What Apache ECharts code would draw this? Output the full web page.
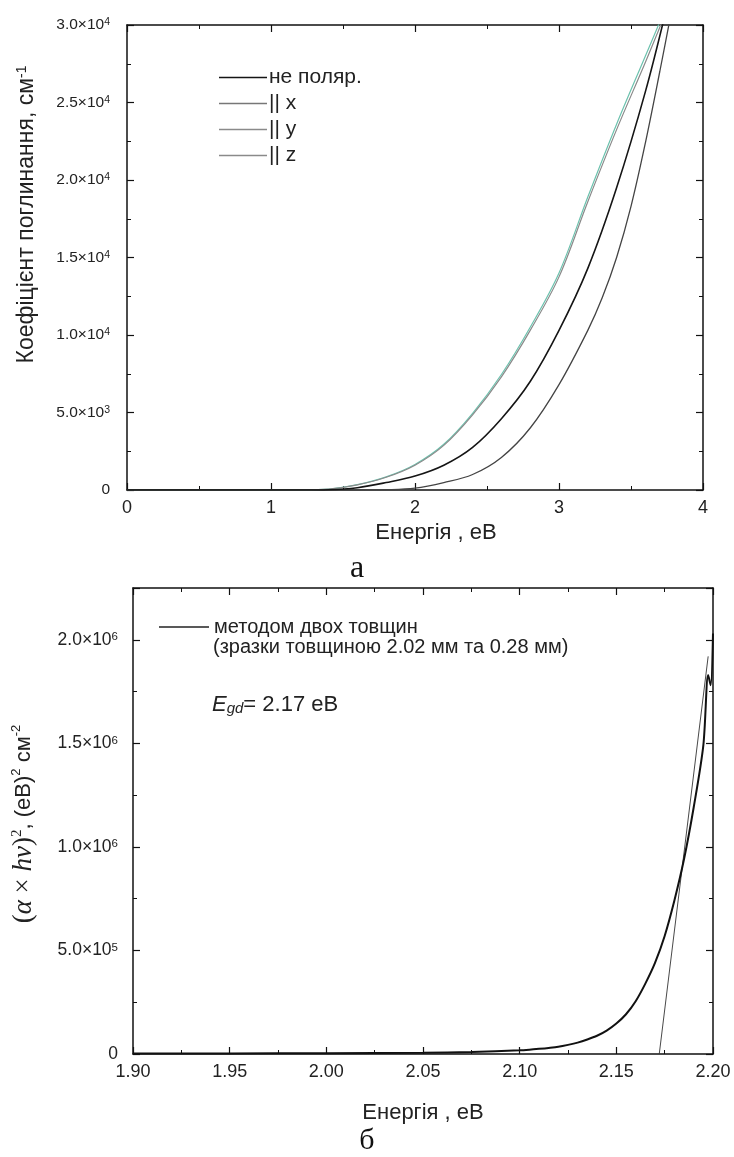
<!DOCTYPE html>
<html><head><meta charset="utf-8">
<script src="https://cdn.jsdelivr.net/npm/echarts@6/dist/echarts.min.js"></script>
<style>html,body{margin:0;padding:0;background:#fff}#c{width:734px;height:1157px}</style>
</head><body><div id="c"></div>
<script>
// ---------- top panel data (а) ----------
const energyN = [0, 1.2, 1.4, 1.6, 1.8, 2.0, 2.2, 2.4, 2.6, 2.8, 3.0, 3.2, 3.4, 3.6, 3.75];
const alphaN  = [0, 0, 20, 150, 480, 900, 1600, 2750, 4600, 7000, 10300, 14300, 19500, 25700, 31200];
const energyX = [0, 1.6, 1.8, 2.0, 2.2, 2.4, 2.6, 2.8, 3.0, 3.2, 3.3, 3.4, 3.5, 3.6, 3.7, 3.8];
const alphaX  = [0, 0, 20, 120, 480, 1000, 2100, 4000, 6800, 10300, 12400, 15000, 18300, 22400, 27000, 31800];
const energyY = [0, 1.0, 1.2, 1.4, 1.6, 1.8, 2.0, 2.2, 2.4, 2.6, 2.8, 3.0, 3.2, 3.4, 3.6, 3.72];
const alphaY  = [0, 0, 4, 55, 330, 820, 1600, 2880, 4850, 7300, 10300, 13750, 18600, 23250, 27600, 30300];
const energyZ = [0, 1.0, 1.2, 1.4, 1.6, 1.8, 2.0, 2.2, 2.4, 2.6, 2.8, 3.0, 3.2, 3.4, 3.6, 3.7];
const alphaZ  = [0, 0, 5, 60, 350, 850, 1650, 2950, 4950, 7450, 10500, 14000, 18900, 23600, 28000, 30200];
const topNames = ['не поляр.', '|| x', '|| y', '|| z'];
const topXTicks = [0, 1, 2, 3, 4];
const topXLabels = ['0', '1', '2', '3', '4'];
const topYTicks = [0, 5000, 10000, 15000, 20000, 25000, 30000];
const topYLabels = ['0', '5.0×10^3', '1.0×10^4', '1.5×10^4', '2.0×10^4', '2.5×10^4', '3.0×10^4'];

// ---------- bottom panel data (б) ----------
const energyB = [1.90, 1.95, 2.00, 2.05, 2.075, 2.10, 2.105, 2.11, 2.115, 2.12, 2.125, 2.13, 2.135, 2.14, 2.145, 2.15, 2.155, 2.16, 2.165, 2.17, 2.175, 2.18, 2.185, 2.19, 2.195, 2.1975, 2.1988, 2.20];
const sqB     = [3000, 3000, 3500, 6000, 10000, 18000, 21000, 25000, 29500, 35000, 44000, 55000, 70000, 88000, 113000, 147000, 192000, 255000, 340000, 440000, 570000, 740000, 940000, 1190000, 1490000, 1830000, 1780000, 2030000];
const fitE = [2.1722, 2.1975];
const fitV = [0, 1920000];
const botName = 'методом двох товщин';
const botXTicks = [1.90, 1.95, 2.00, 2.05, 2.10, 2.15, 2.20];
const botXLabels = ['1.90', '1.95', '2.00', '2.05', '2.10', '2.15', '2.20'];
const botYTicks = [0, 500000, 1000000, 1500000, 2000000];
const botYLabels = ['0', '5.0×10^5', '1.0×10^6', '1.5×10^6', '2.0×10^6'];

const zip = (a, b) => a.map((v, i) => [v, b[i]]);
const SANS = "'Liberation Sans', Arial, sans-serif";
const SERIF = "'Liberation Serif', 'Times New Roman', serif";
function lookup(ticks, labels) {
  return function (v) {
    for (let i = 0; i < ticks.length; i++) {
      if (Math.abs(ticks[i] - v) <= 1e-9 * Math.max(1, Math.abs(v))) {
        return labels[i].replace(/\^(-?\d+)/, '{s|$1}');
      }
    }
    return '';
  };
}
const axLine = { show: true, onZero: false, lineStyle: { color: '#111', width: 1.5 } };
function tickAx(extra) {
  return Object.assign({
    type: 'value', axisLine: axLine, splitLine: { show: false },
    axisTick: { show: true, inside: true, length: 7, lineStyle: { color: '#111', width: 1.2 } },
    minorTick: { show: true, splitNumber: 2, length: 4, lineStyle: { color: '#111', width: 1 } },
    axisLabel: { show: false }
  }, extra);
}

const chart = echarts.init(document.getElementById('c'), null, { renderer: 'canvas' });
const option = {
  backgroundColor: '#fff',
  animation: false,
  grid: [
    { left: 127, right: 31, top: 25, bottom: 667 },
    { left: 133, right: 21, top: 588, bottom: 103 }
  ],
  xAxis: [
    tickAx({ gridIndex: 0, min: 0, max: 4, interval: 1, position: 'bottom',
      axisLabel: { show: true, formatter: lookup(topXTicks, topXLabels), fontSize: 18, fontFamily: SANS, color: '#222', margin: 9 },
      name: 'Енергія , еВ', nameLocation: 'middle', nameGap: 32,
      nameTextStyle: { fontSize: 22, fontFamily: SANS, color: '#222', padding: [0, 0, 0, 42] } }),
    tickAx({ gridIndex: 0, min: 0, max: 4, interval: 1, position: 'top' }),
    tickAx({ gridIndex: 1, min: 1.9, max: 2.2, interval: 0.05, position: 'bottom',
      axisLabel: { show: true, formatter: lookup(botXTicks, botXLabels), fontSize: 18, fontFamily: SANS, color: '#222', margin: 9 },
      name: 'Енергія , еВ', nameLocation: 'middle', nameGap: 48,
      nameTextStyle: { fontSize: 22, fontFamily: SANS, color: '#222' } }),
    tickAx({ gridIndex: 1, min: 1.9, max: 2.2, interval: 0.05, position: 'top' })
  ],
  yAxis: [
    tickAx({ gridIndex: 0, min: 0, max: 30000, interval: 5000, position: 'left',
      axisLabel: { show: true, formatter: lookup(topYTicks, topYLabels), fontSize: 15.5, fontFamily: SANS, color: '#222', margin: 17,
        rich: { s: { fontSize: 10.5, fontFamily: SANS, color: '#222', verticalAlign: 'top', lineHeight: 10 } } },
      name: 'Коефіцієнт поглинання, см{s|-1}', nameLocation: 'middle', nameGap: 89,
      nameTextStyle: { fontSize: 23, fontFamily: SANS, color: '#222', padding: [0, 0, 0, 86],
        rich: { s: { fontSize: 14, fontFamily: SANS, color: '#222', verticalAlign: 'top', lineHeight: 12 } } } }),
    tickAx({ gridIndex: 0, min: 0, max: 30000, interval: 5000, position: 'right' }),
    tickAx({ gridIndex: 1, min: 0, max: 2250000, interval: 500000, position: 'left',
      minorTick: { show: false },
      axisLabel: { show: true, formatter: lookup(botYTicks, botYLabels), fontSize: 17.5, fontFamily: SANS, color: '#222', margin: 15,
        rich: { s: { fontSize: 11.5, fontFamily: SANS, color: '#222', verticalAlign: 'top', lineHeight: 11 } } },
      name: '{p|(}{m|α}{p| × }{m|hν}{p|)}{ms|2}{t|, (еВ)}{s|2}{t| см}{s|-2}', nameLocation: 'middle', nameGap: 96,
      nameTextStyle: { color: '#222', padding: [0, 6, 0, 0],
        rich: {
          p: { fontSize: 27, fontFamily: SERIF, color: '#222' },
          m: { fontSize: 27, fontFamily: SERIF, fontStyle: 'italic', color: '#222' },
          ms: { fontSize: 15, fontFamily: SERIF, color: '#222', verticalAlign: 'top', lineHeight: 13 },
          t: { fontSize: 22, fontFamily: SANS, color: '#222' },
          s: { fontSize: 13, fontFamily: SANS, color: '#222', verticalAlign: 'top', lineHeight: 13 }
        } } }),
    tickAx({ gridIndex: 1, min: 0, max: 2250000, interval: 500000, position: 'right', minorTick: { show: false } }),
    tickAx({ gridIndex: 1, min: 0, max: 2250000, interval: 250000, position: 'left', axisLine: { show: false },
      minorTick: { show: false }, axisTick: { show: true, inside: true, length: 4, lineStyle: { color: '#111', width: 1 } } }),
    tickAx({ gridIndex: 1, min: 0, max: 2250000, interval: 250000, position: 'right', axisLine: { show: false },
      minorTick: { show: false }, axisTick: { show: true, inside: true, length: 4, lineStyle: { color: '#111', width: 1 } } })
  ],
  legend: [
    { data: topNames, orient: 'vertical', left: 214, top: 62, icon: 'rect', itemWidth: 48, itemHeight: 1.6, itemGap: 5,
      textStyle: { fontSize: 21, fontFamily: SANS, color: '#222', padding: [0, 0, 0, -3] }, selectedMode: false },
    { data: [botName], orient: 'vertical', left: 154, top: 612, icon: 'rect', itemWidth: 50, itemHeight: 1.6,
      textStyle: { fontSize: 20, fontFamily: SANS, color: '#222' }, selectedMode: false }
  ],
  series: [
    { name: topNames[3], type: 'line', xAxisIndex: 0, yAxisIndex: 0, data: zip(energyZ, alphaZ), symbol: 'none', smooth: 0.35,
      lineStyle: { color: '#6cc2ae', width: 1.2 }, itemStyle: { color: '#8a8a8a' }, z: 3 },
    { name: topNames[2], type: 'line', xAxisIndex: 0, yAxisIndex: 0, data: zip(energyY, alphaY), symbol: 'none', smooth: 0.35,
      lineStyle: { color: '#8a8a8a', width: 1.2 }, itemStyle: { color: '#8a8a8a' }, z: 3 },
    { name: topNames[1], type: 'line', xAxisIndex: 0, yAxisIndex: 0, data: zip(energyX, alphaX), symbol: 'none', smooth: 0.35,
      lineStyle: { color: '#444', width: 1.3 }, itemStyle: { color: '#777' }, z: 3 },
    { name: topNames[0], type: 'line', xAxisIndex: 0, yAxisIndex: 0, data: zip(energyN, alphaN), symbol: 'none', smooth: 0.35,
      lineStyle: { color: '#151515', width: 1.6 }, itemStyle: { color: '#151515' }, z: 4 },
    { name: botName, type: 'line', xAxisIndex: 2, yAxisIndex: 2, data: zip(energyB, sqB), symbol: 'none', smooth: 0.3,
      lineStyle: { color: '#111', width: 2 }, itemStyle: { color: '#222' }, z: 4 },
    { name: 'fit', type: 'line', xAxisIndex: 2, yAxisIndex: 2, data: zip(fitE, fitV), symbol: 'none',
      lineStyle: { color: '#333', width: 0.9 }, itemStyle: { color: '#333' }, z: 3 }
  ],
  graphic: [
    { type: 'text', left: 350, top: 553, style: { text: 'а', font: "32px 'Liberation Serif', serif", fill: '#111' } },
    { type: 'text', left: 'center', top: 1126, style: { text: 'б', font: "30px 'Liberation Serif', serif", fill: '#111' } },
    { type: 'text', left: 213, top: 637, style: { text: '(зразки товщиною 2.02 мм та 0.28 мм)', font: "20px 'Liberation Sans', Arial", fill: '#222' } },
    { type: 'text', left: 212, top: 694, style: {
      text: '{i|E}{sub|gd}{n|= 2.17 еВ}',
      rich: {
        i: { fontSize: 22, fontFamily: SANS, fontStyle: 'italic', fill: '#222' },
        sub: { fontSize: 15, fontFamily: SANS, fontStyle: 'italic', fill: '#222', verticalAlign: 'bottom', lineHeight: 13 },
        n: { fontSize: 22, fontFamily: SANS, fill: '#222' }
      } } }
  ]
};
chart.setOption(option);
</script></body></html>
